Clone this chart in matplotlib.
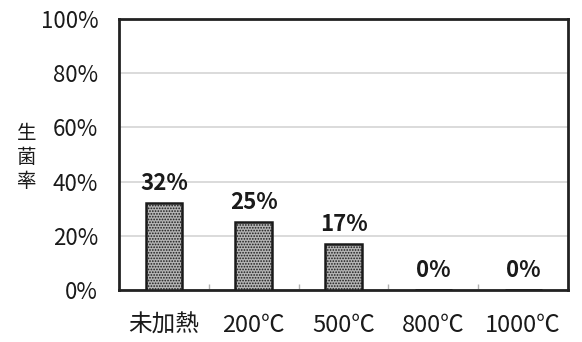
import matplotlib.pyplot as plt
from matplotlib.ticker import FixedLocator, FuncFormatter

plt.rcParams['font.family'] = ['Noto Sans CJK JP', 'DejaVu Sans']
plt.rcParams['hatch.color'] = '#555555'
plt.rcParams['hatch.linewidth'] = 0.8

# 加熱温度ごとの生菌率 (%)
categories = ['未加熱', '200℃', '500℃', '800℃', '1000℃']
survival = [32, 25, 17, 0, 0]
y_ticks = [0, 20, 40, 60, 80, 100]

fig = plt.figure(figsize=(5.82, 3.42), dpi=100)
ax = fig.add_axes([0.2045, 0.152, 0.7715, 0.792])

x = range(len(categories))
ax.bar(x, survival, width=0.41, facecolor='#b4b4b4', edgecolor='#1a1a1a',
       linewidth=1.8, hatch='......', zorder=3)

for xi, v in zip(x, survival):
    ax.text(xi, v + 3, f'{v}%', ha='center', va='bottom',
            fontsize=16, fontweight='bold', color='#1a1a1a', zorder=4)

ax.set_xlim(-0.5, len(categories) - 0.5)
ax.set_ylim(0, 100)
ax.set_yticks(y_ticks)
ax.yaxis.set_major_formatter(FuncFormatter(lambda v, p: f'{int(v)}%'))
ax.grid(axis='y', color='#d4d4d4', linewidth=1.2, zorder=0)

ax.set_xticks(list(x))
ax.set_xticklabels(categories)
ax.tick_params(axis='x', length=0, pad=17, labelsize=17, colors='#1a1a1a')
ax.tick_params(axis='y', length=0, pad=15, labelsize=16, colors='#1a1a1a')

# 区切り線 (カテゴリ境界の小さな目盛り)
ax.xaxis.set_minor_locator(FixedLocator([i + 0.5 for i in range(len(categories) - 1)]))
ax.tick_params(axis='x', which='minor', direction='in', length=4,
               width=1, color='#b0b0b0')

for s in ax.spines.values():
    s.set_linewidth(2)
    s.set_color('#222222')

fig.text(0.045, 0.54, '生\n菌\n率', ha='center', va='center',
         fontsize=14, linespacing=1.2, color='#1a1a1a')

fig.savefig('out.png', dpi=100)
